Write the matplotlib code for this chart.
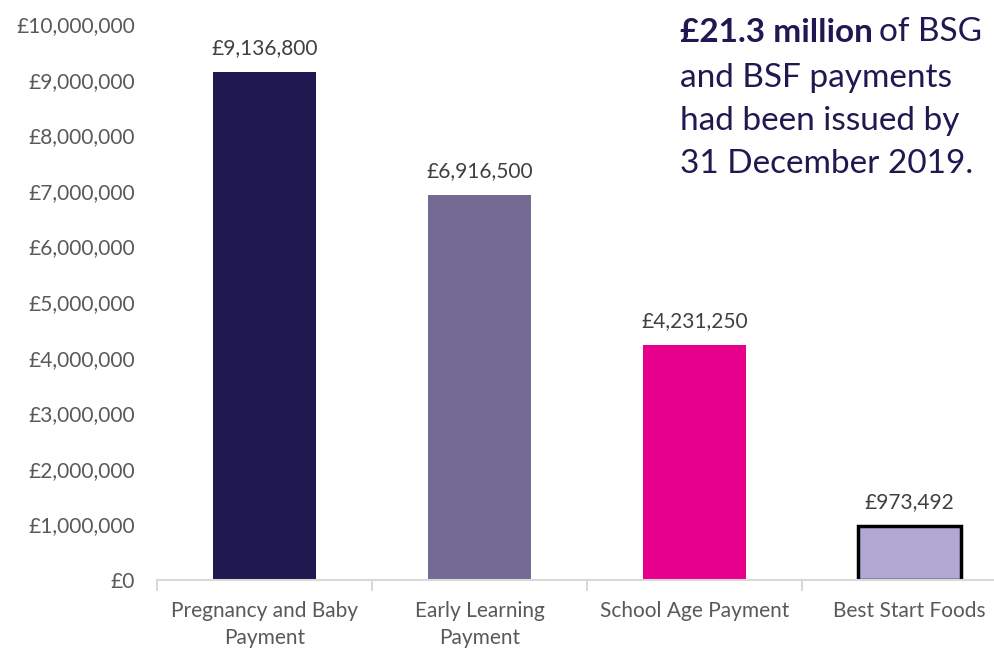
import matplotlib.pyplot as plt
from matplotlib.ticker import FuncFormatter, FixedLocator

categories = ["Pregnancy and Baby\nPayment", "Early Learning\nPayment", "School Age Payment", "Best Start Foods"]
values = [9136800, 6916500, 4231250, 973492]
labels = ["£9,136,800", "£6,916,500", "£4,231,250", "£973,492"]
colours = ["#201850", "#756a94", "#e6008c", "#b3a8d3"]

plt.rcParams['font.family'] = ['Lato', 'DejaVu Sans']

fig = plt.figure(figsize=(9.94, 6.5), dpi=100)
# plot area runs off the right edge, as in the source
ax = fig.add_axes([157 / 994, 1 - 580 / 650, 860 / 994, 556 / 650])

x = range(len(values))
bars = ax.bar(x, values, width=0.475, color=colours)
bars[3].set_edgecolor("black")
bars[3].set_linewidth(2.5)

for i, (v, lab) in enumerate(zip(values, labels)):
    ax.annotate(lab, (i, v), xytext=(0, 10), textcoords="offset points",
                ha="center", va="bottom", fontsize=15, color="#404040")

ax.set_xlim(-0.5, len(values) - 0.5)
ax.set_ylim(0, 10000000)
ax.set_yticks(range(0, 10000001, 1000000))
ax.yaxis.set_major_formatter(FuncFormatter(lambda v, p: f"£{int(v):,}"))
ax.set_xticks(list(x))
ax.set_xticklabels(categories, linespacing=1.45)
ax.xaxis.set_minor_locator(FixedLocator([i - 0.5 for i in range(len(values) + 1)]))

for s in ["top", "right", "left"]:
    ax.spines[s].set_visible(False)
ax.spines["bottom"].set_color("#d9d9d9")
ax.spines["bottom"].set_linewidth(1.5)
ax.tick_params(axis="y", length=0, labelsize=15, labelcolor="#595959", pad=16)
ax.tick_params(axis="x", which="major", length=0, labelsize=15, labelcolor="#595959", pad=15)
ax.tick_params(axis="x", which="minor", length=8, width=1.5, color="#d9d9d9")

navy = "#201850"
fs = 24
bold = fig.text(680 / 994, 1 - 32 / 650, "£21.3 million", fontsize=fs, fontweight="bold",
                color=navy, va="center", ha="left")
fig.canvas.draw()
bb = bold.get_window_extent()
fig.text((bb.x1 + 6) / 994, 1 - 32 / 650, "of BSG", fontsize=fs, color=navy, va="center", ha="left")
fig.text(680 / 994, 1 - 78 / 650, "and BSF payments", fontsize=fs, color=navy, va="center", ha="left")
fig.text(680 / 994, 1 - 121 / 650, "had been issued by", fontsize=fs, color=navy, va="center", ha="left")
fig.text(680 / 994, 1 - 164 / 650, "31 December 2019.", fontsize=fs, color=navy, va="center", ha="left")

fig.savefig("out.png", dpi=100)
